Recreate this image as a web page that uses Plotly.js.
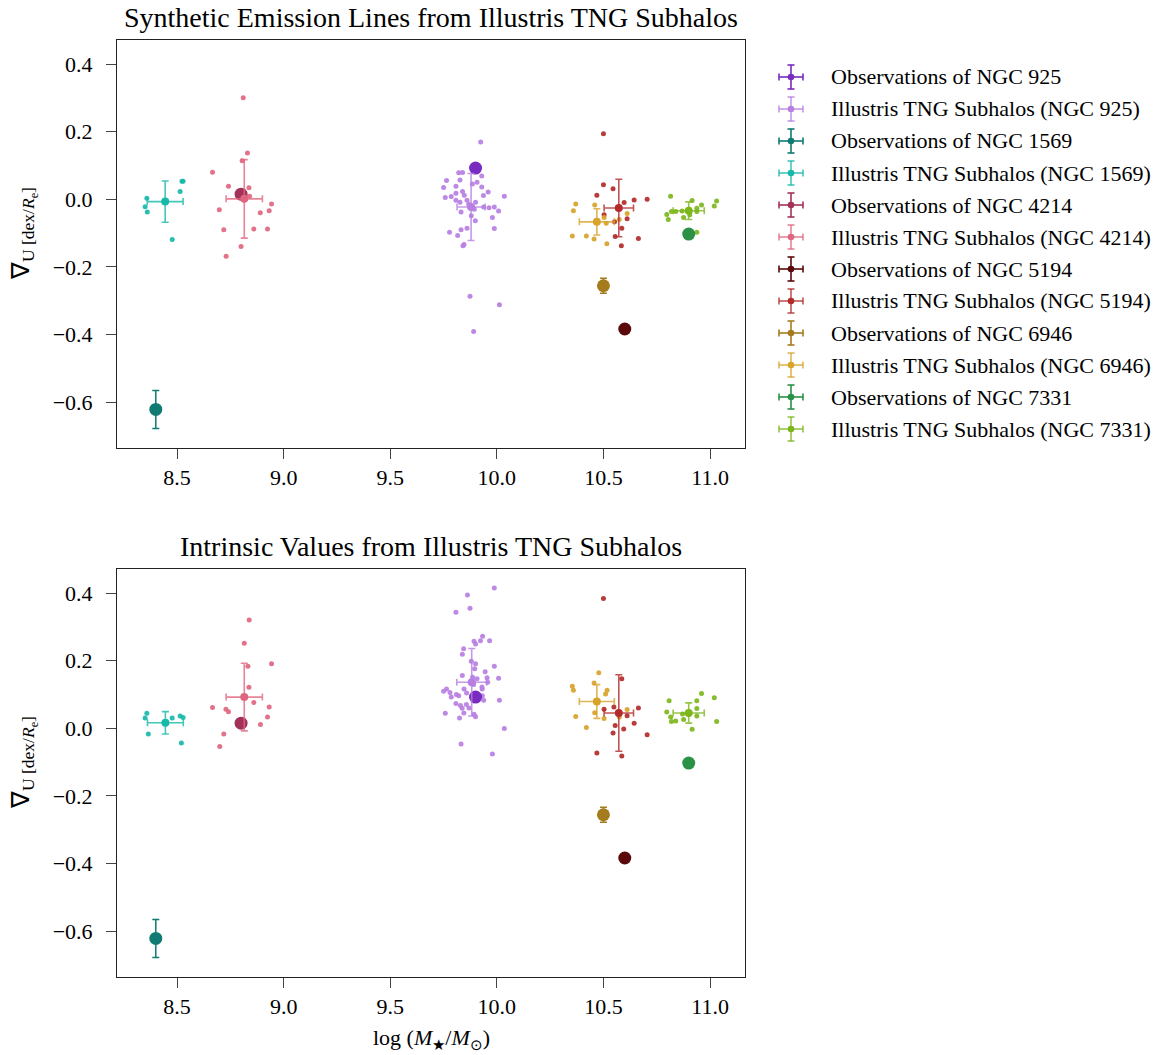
<!DOCTYPE html>
<html>
<head>
<meta charset="utf-8">
<script src="https://cdn.plot.ly/plotly-3.0.1.min.js"></script>
<style>
  body { margin: 0; background: #ffffff; }
  #chart { width: 1168px; height: 1055px; }
</style>
</head>
<body>
<div id="chart"></div>
<script>
// ---- Galaxies and their observed metallicity gradients ----
const galaxies   = ['NGC 925', 'NGC 1569', 'NGC 4214', 'NGC 5194', 'NGC 6946', 'NGC 7331'];
const obsMass    = [9.9, 8.4, 8.8, 10.6, 10.5, 10.9];
const obsGrad    = [0.092, -0.622, 0.015, -0.384, -0.256, -0.103];
const obsGradErr = [0.010, 0.056, 0.010, 0.010, 0.022, 0.010];
const obsColors  = ['#7a2bc0', '#0f7b72', '#a3325a', '#5a0a0a', '#a57c1d', '#2a9147'];
const simColors  = ['#b77fe2', '#17b8aa', '#e0667f', '#b22b2b', '#d8a32b', '#7cb61b'];

// ---- Subhalo ensemble means (synthetic emission lines) ----
const simMassTop    = [9.879, 8.444, 8.815, 10.572, 10.469, 10.900];
const simMassErrTop = [0.066, 0.084, 0.085, 0.069, 0.082, 0.073];
const simGradTop    = [-0.023, -0.007, 0.001, -0.026, -0.067, -0.034];
const simGradErrTop = [0.099, 0.061, 0.116, 0.085, 0.039, 0.026];

// ---- Subhalo ensemble means (intrinsic values) ----
const simMassBot    = [9.882, 8.445, 8.815, 10.572, 10.469, 10.900];
const simMassErrBot = [0.070, 0.084, 0.085, 0.069, 0.082, 0.073];
const simGradBot    = [0.136, 0.016, 0.092, 0.045, 0.079, 0.045];
const simGradErrBot = [0.100, 0.033, 0.100, 0.113, 0.050, 0.030];

// ---- Individual subhalos, synthetic emission lines ----
const tng925MassTop = [9.924, 9.821, 9.839, 9.764, 9.827, 9.750, 9.929, 9.907, 9.885, 9.808, 9.929, 9.959, 9.839, 9.808, 9.937, 9.758, 9.786, 10.035, 9.808, 9.827, 9.847, 9.860, 9.868, 9.900, 9.894, 9.938, 9.963, 9.988, 10.008, 9.832, 9.880, 9.979, 9.899, 9.988, 9.860, 9.832, 9.778, 9.816, 9.841, 9.846, 9.874, 10.012, 9.891];
const tng925GradTop = [0.169, 0.078, 0.079, 0.055, 0.057, 0.035, 0.069, 0.050, 0.045, 0.038, 0.036, 0.021, 0.023, 0.018, 0.011, 0.005, 0.008, 0.009, -0.003, -0.009, 0.012, -0.003, -0.015, -0.009, -0.030, -0.023, -0.025, -0.023, -0.035, -0.038, -0.049, -0.054, -0.064, -0.087, -0.086, -0.090, -0.098, -0.107, -0.138, -0.134, -0.287, -0.312, -0.391];
const tng1569MassTop = [8.523, 8.528, 8.514, 8.358, 8.350, 8.360, 8.477];
const tng1569GradTop = [0.053, 0.053, 0.023, 0.003, -0.022, -0.038, -0.119];
const tng4214MassTop = [8.810, 8.830, 8.805, 8.666, 8.741, 8.837, 8.840, 8.943, 8.932, 8.698, 8.890, 8.719, 8.860, 8.924, 8.800, 8.730];
const tng4214GradTop = [0.300, 0.137, 0.114, 0.080, 0.038, 0.034, 0.009, -0.014, -0.034, -0.031, -0.040, -0.090, -0.088, -0.088, -0.140, -0.169];
const tng5194MassTop = [10.500, 10.500, 10.545, 10.469, 10.597, 10.644, 10.705, 10.503, 10.611, 10.552, 10.586, 10.555, 10.664, 10.584];
const tng5194GradTop = [0.194, 0.043, 0.031, 0.012, -0.010, -0.002, 0.000, -0.046, -0.058, -0.067, -0.086, -0.110, -0.116, -0.138];
const tng6946MassTop = [10.370, 10.359, 10.459, 10.611, 10.503, 10.574, 10.513, 10.354, 10.420, 10.456, 10.516];
const tng6946GradTop = [-0.014, -0.034, -0.017, -0.042, -0.054, -0.060, -0.071, -0.109, -0.109, -0.118, -0.132];
const tng7331MassTop = [10.815, 10.916, 11.031, 11.020, 10.960, 10.938, 10.819, 10.839, 10.869, 10.797, 10.938, 10.905, 10.876, 10.804, 10.938];
const tng7331GradTop = [0.009, -0.004, -0.005, -0.020, -0.017, -0.027, -0.036, -0.036, -0.035, -0.045, -0.036, -0.046, -0.054, -0.060, -0.098];

// ---- Individual subhalos, intrinsic values ----
const tng925MassBot = [9.988, 9.862, 9.874, 9.808, 9.933, 9.923, 9.966, 9.893, 9.900, 9.844, 9.838, 9.880, 9.900, 9.896, 9.988, 9.945, 9.838, 9.886, 9.907, 9.954, 10.008, 9.957, 9.891, 9.930, 9.931, 9.846, 9.764, 9.750, 9.780, 9.858, 9.810, 9.821, 9.786, 9.932, 9.938, 10.012, 9.808, 9.829, 9.857, 9.869, 9.837, 9.845, 9.893, 9.900, 9.758, 9.825, 10.035, 9.832, 9.979];
const tng925GradBot = [0.415, 0.394, 0.355, 0.343, 0.272, 0.259, 0.259, 0.257, 0.249, 0.235, 0.219, 0.198, 0.191, 0.176, 0.183, 0.167, 0.156, 0.151, 0.146, 0.149, 0.148, 0.136, 0.129, 0.122, 0.116, 0.116, 0.116, 0.109, 0.106, 0.104, 0.100, 0.096, 0.092, 0.096, 0.083, 0.083, 0.073, 0.067, 0.070, 0.060, 0.059, 0.045, 0.041, 0.034, 0.044, 0.030, -0.001, -0.047, -0.076];
const tng1569MassBot = [8.358, 8.350, 8.477, 8.514, 8.528, 8.365, 8.520];
const tng1569GradBot = [0.044, 0.030, 0.030, 0.036, 0.032, -0.017, -0.044];
const tng4214MassBot = [8.838, 8.815, 8.943, 8.832, 8.837, 8.860, 8.666, 8.729, 8.741, 8.932, 8.924, 8.891, 8.719, 8.700];
const tng4214GradBot = [0.320, 0.251, 0.191, 0.183, 0.121, 0.076, 0.061, 0.056, 0.049, 0.063, 0.033, 0.011, -0.017, -0.054];
const tng5194MassBot = [10.500, 10.586, 10.503, 10.549, 10.664, 10.611, 10.644, 10.555, 10.595, 10.545, 10.705, 10.469, 10.586];
const tng5194GradBot = [0.384, 0.146, 0.056, 0.063, 0.060, 0.037, 0.015, 0.008, -0.002, -0.014, -0.019, -0.073, -0.082];
const tng6946MassBot = [10.478, 10.456, 10.354, 10.359, 10.517, 10.510, 10.611, 10.459, 10.370, 10.503, 10.574, 10.420];
const tng6946GradBot = [0.164, 0.134, 0.124, 0.112, 0.112, 0.101, 0.055, 0.046, 0.035, 0.029, 0.033, 0.002];
const tng7331MassBot = [10.960, 11.020, 10.808, 10.938, 10.938, 10.797, 10.871, 10.938, 10.815, 10.876, 10.819, 10.839, 11.031, 10.916];
const tng7331GradBot = [0.103, 0.090, 0.081, 0.081, 0.058, 0.048, 0.042, 0.036, 0.033, 0.026, 0.020, 0.021, 0.020, -0.003];

const subhalosTop = [
  [tng925MassTop, tng925GradTop], [tng1569MassTop, tng1569GradTop], [tng4214MassTop, tng4214GradTop],
  [tng5194MassTop, tng5194GradTop], [tng6946MassTop, tng6946GradTop], [tng7331MassTop, tng7331GradTop]
];
const subhalosBot = [
  [tng925MassBot, tng925GradBot], [tng1569MassBot, tng1569GradBot], [tng4214MassBot, tng4214GradBot],
  [tng5194MassBot, tng5194GradBot], [tng6946MassBot, tng6946GradBot], [tng7331MassBot, tng7331GradBot]
];

const FONT = 'Liberation Serif, Times New Roman, serif';
const W = 1168, H = 1055;

function rgba(hex, a) {
  const n = parseInt(hex.slice(1), 16);
  return `rgba(${(n >> 16) & 255},${(n >> 8) & 255},${n & 255},${a})`;
}

function panelTraces(xa, ya, subhalos, mMass, mMassErr, mGrad, mGradErr) {
  const traces = [];
  // individual subhalos sit underneath everything else
  subhalos.forEach((s, i) => {
    traces.push({
      type: 'scatter', mode: 'markers', x: s[0], y: s[1], xaxis: xa, yaxis: ya,
      marker: { size: 5, color: rgba(simColors[i], 0.92) }, hoverinfo: 'skip',
      name: 'Illustris TNG Subhalos (' + galaxies[i] + ')'
    });
  });
  galaxies.forEach((g, i) => {
    traces.push({
      type: 'scatter', mode: 'markers', x: [obsMass[i]], y: [obsGrad[i]], xaxis: xa, yaxis: ya,
      marker: { size: 13, color: obsColors[i] },
      error_y: { type: 'data', array: [obsGradErr[i]], color: obsColors[i], thickness: 1.5, width: 3.5 },
      name: 'Observations of ' + g
    });
    traces.push({
      type: 'scatter', mode: 'markers', x: [mMass[i]], y: [mGrad[i]], xaxis: xa, yaxis: ya,
      marker: { size: 8, color: simColors[i] },
      error_x: { type: 'data', array: [mMassErr[i]], color: rgba(simColors[i], 0.8), thickness: 1.6, width: 3.5 },
      error_y: { type: 'data', array: [mGradErr[i]], color: rgba(simColors[i], 0.8), thickness: 1.6, width: 3.5 },
      name: 'Illustris TNG Subhalos (' + g + ')'
    });
  });
  return traces;
}

const data = [].concat(
  panelTraces('x', 'y', subhalosTop, simMassTop, simMassErrTop, simGradTop, simGradErrTop),
  panelTraces('x2', 'y2', subhalosBot, simMassBot, simMassErrBot, simGradBot, simGradErrBot)
);

// pixel -> paper helpers for the page furniture
const px = v => v / W;
const py = v => 1 - v / H;

const xAxisBase = {
  range: [8.218, 11.164], tickvals: [8.5, 9.0, 9.5, 10.0, 10.5, 11.0],
  ticktext: ['8.5', '9.0', '9.5', '10.0', '10.5', '11.0'],
  showgrid: false, zeroline: false, showline: true, mirror: true, ticklabelstandoff: 0,
  linecolor: '#222', linewidth: 1, ticks: 'outside', ticklen: 10, tickwidth: 1, tickcolor: '#444',
  tickfont: { family: FONT, size: 22, color: '#000' }, domain: [px(117), px(745)]
};
const yAxisBase = {
  range: [-0.736, 0.471], tickvals: [-0.6, -0.4, -0.2, 0.0, 0.2, 0.4],
  ticktext: ['\u22120.6', '\u22120.4', '\u22120.2', '0.0', '0.2', '0.4'],
  showgrid: false, zeroline: false, showline: true, mirror: true, ticklabelstandoff: 9,
  linecolor: '#222', linewidth: 1, ticks: 'outside', ticklen: 10, tickwidth: 1, tickcolor: '#444',
  tickfont: { family: FONT, size: 22, color: '#000' }
};

const annotations = [
  { text: 'Synthetic Emission Lines from Illustris TNG Subhalos', xref: 'paper', yref: 'paper',
    x: px(431), y: py(18), xanchor: 'center', yanchor: 'middle', showarrow: false,
    font: { family: FONT, size: 28, color: '#000' } },
  { text: 'Intrinsic Values from Illustris TNG Subhalos', xref: 'paper', yref: 'paper',
    x: px(431), y: py(546), xanchor: 'center', yanchor: 'middle', showarrow: false,
    font: { family: FONT, size: 28, color: '#000' } },
  { text: 'log (<i>M</i><sub>\u2605</sub>/<i>M</i><sub>\u2299</sub>)', xref: 'paper', yref: 'paper',
    x: px(431), y: py(1039), xanchor: 'center', yanchor: 'middle', showarrow: false,
    font: { family: FONT, size: 22, color: '#000' } }
];
[234, 763].forEach(cy => {
  annotations.push({
    text: '\u2207<sub>U [dex/<i>R</i><sub>e</sub>]</sub>', xref: 'paper', yref: 'paper',
    x: px(24), y: py(cy), xanchor: 'center', yanchor: 'middle', textangle: -90, showarrow: false,
    font: { family: FONT, size: 25, color: '#000' }
  });
});

// legend: error-bar cross icons followed by labels
const shapes = [];
const legendEntries = [];
galaxies.forEach((g, i) => {
  legendEntries.push({ label: 'Observations of ' + g, color: obsColors[i], alpha: 1 });
  legendEntries.push({ label: 'Illustris TNG Subhalos (' + g + ')', color: simColors[i], alpha: 0.8 });
});
legendEntries.forEach((e, k) => {
  const cy = 77 + 32 * k, cx = 791;
  const c = rgba(e.color, e.alpha);
  const ln = (x0, y0, x1, y1) => shapes.push({
    type: 'line', xref: 'paper', yref: 'paper', x0: px(x0), y0: py(y0), x1: px(x1), y1: py(y1),
    line: { color: c, width: 1.6 }
  });
  ln(cx - 12, cy, cx + 12, cy);
  ln(cx, cy - 12, cx, cy + 12);
  ln(cx - 3.5, cy - 12, cx + 3.5, cy - 12);
  ln(cx - 3.5, cy + 12, cx + 3.5, cy + 12);
  ln(cx - 12, cy - 3.5, cx - 12, cy + 3.5);
  ln(cx + 12, cy - 3.5, cx + 12, cy + 3.5);
  shapes.push({
    type: 'circle', xref: 'paper', yref: 'paper', x0: px(cx - 3.3), x1: px(cx + 3.3), y0: py(cy - 3.3), y1: py(cy + 3.3),
    fillcolor: e.color, line: { width: 0 }
  });
  annotations.push({
    text: e.label, xref: 'paper', yref: 'paper', x: px(829), y: py(cy), xanchor: 'left', yanchor: 'middle',
    showarrow: false, font: { family: FONT, size: 22, color: '#000' }
  });
});

const layout = {
  width: W, height: H,
  margin: { l: 0, r: 0, t: 0, b: 0 },
  paper_bgcolor: '#ffffff', plot_bgcolor: '#ffffff',
  showlegend: false,
  xaxis: Object.assign({}, xAxisBase, { anchor: 'y' }),
  yaxis: Object.assign({}, yAxisBase, { anchor: 'x', domain: [py(448), py(40)] }),
  xaxis2: Object.assign({}, xAxisBase, { anchor: 'y2' }),
  yaxis2: Object.assign({}, yAxisBase, { anchor: 'x2', domain: [py(977), py(569)] }),
  annotations: annotations,
  shapes: shapes,
  font: { family: FONT }
};

Plotly.newPlot('chart', data, layout, { staticPlot: true, displayModeBar: false });
</script>
</body>
</html>
